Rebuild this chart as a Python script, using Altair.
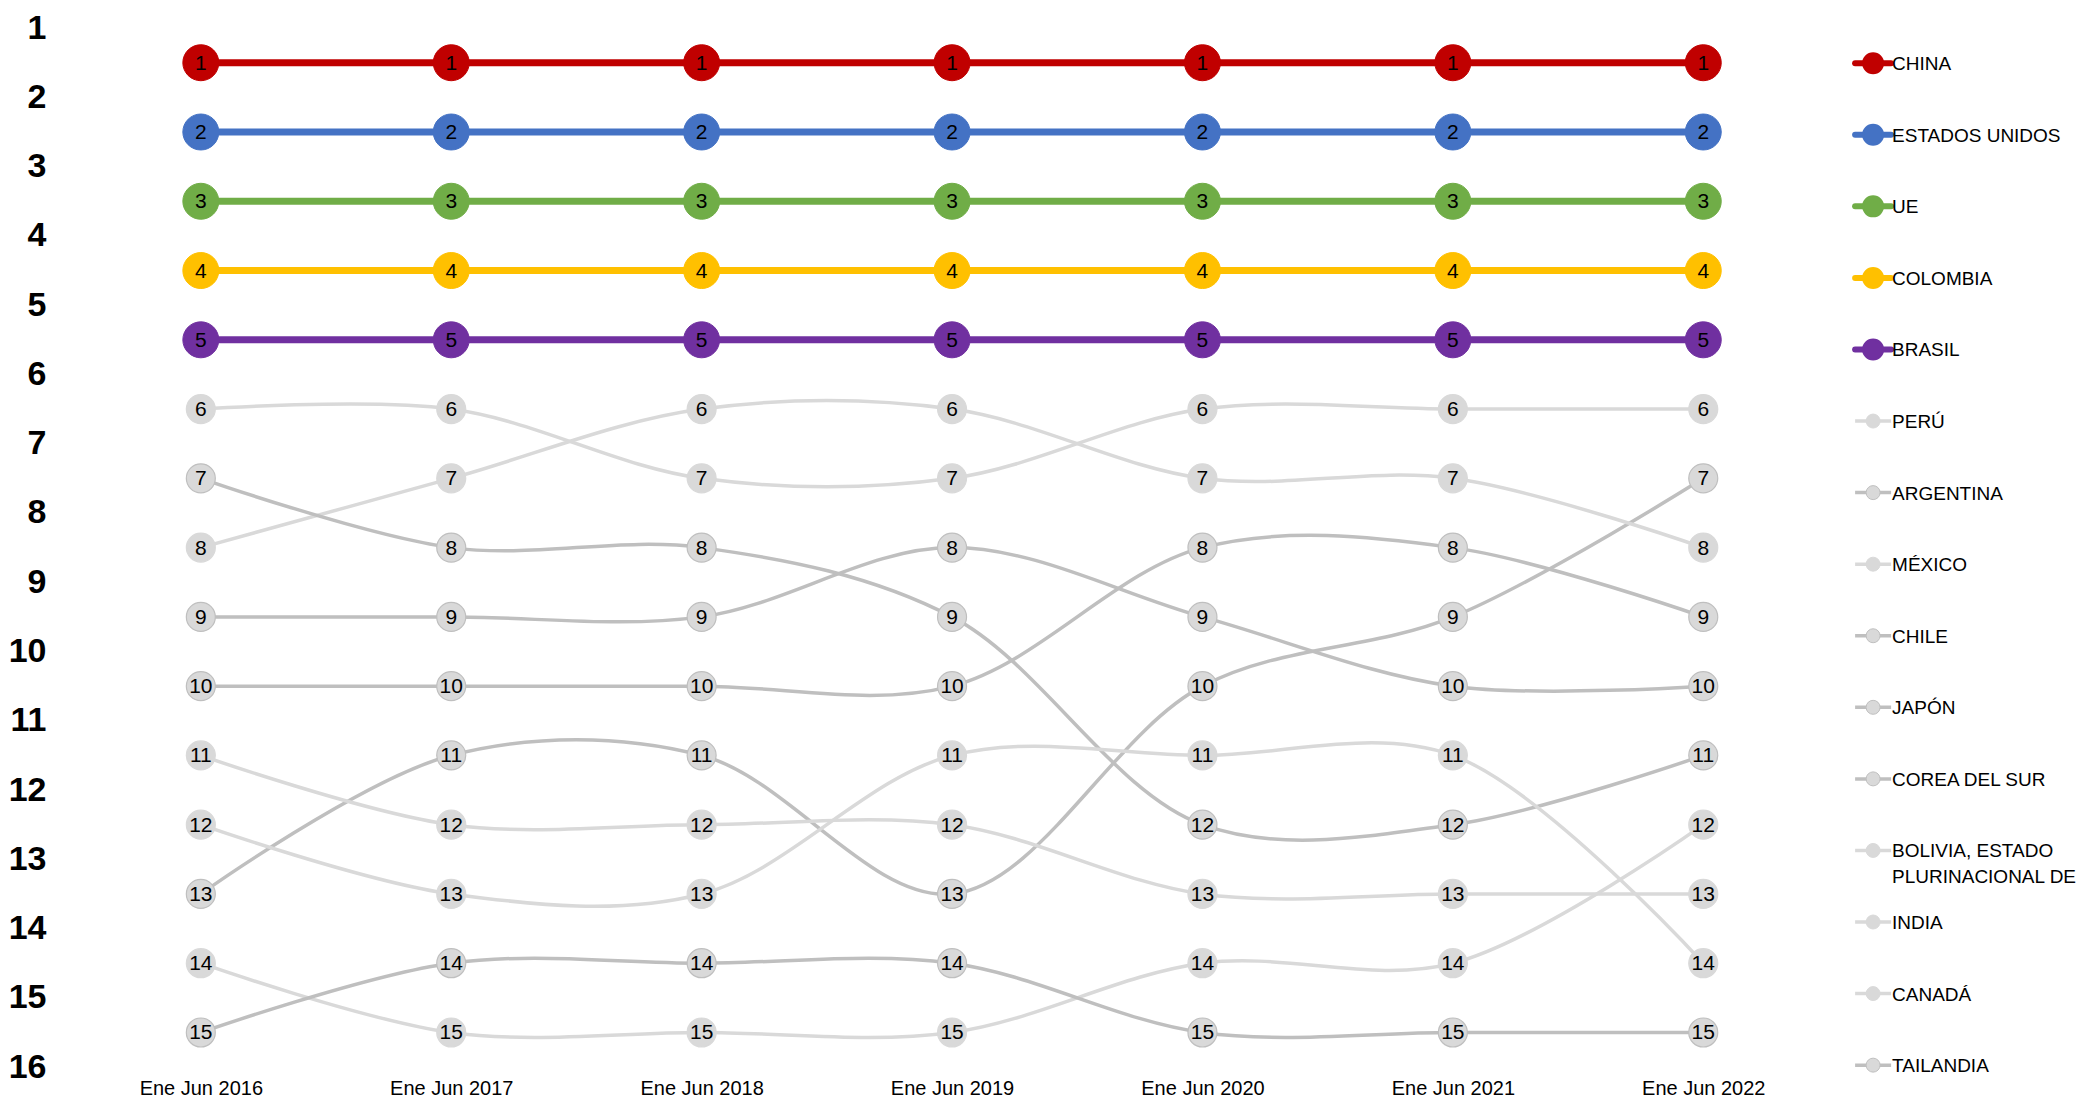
import altair as alt
import pandas as pd

periods = ["Ene Jun 2016", "Ene Jun 2017", "Ene Jun 2018", "Ene Jun 2019",
           "Ene Jun 2020", "Ene Jun 2021", "Ene Jun 2022"]

countries = ["CHINA", "ESTADOS UNIDOS", "UE", "COLOMBIA", "BRASIL", "PERÚ",
             "ARGENTINA", "MÉXICO", "CHILE", "JAPÓN", "COREA DEL SUR",
             "BOLIVIA, ESTADO PLURINACIONAL DE", "INDIA", "CANADÁ", "TAILANDIA"]

legend_labels = ["CHINA", "ESTADOS UNIDOS", "UE", "COLOMBIA", "BRASIL", "PERÚ",
                 "ARGENTINA", "MÉXICO", "CHILE", "JAPÓN", "COREA DEL SUR",
                 "BOLIVIA, ESTADO\nPLURINACIONAL DE", "INDIA", "CANADÁ", "TAILANDIA"]

rank_china = [1, 1, 1, 1, 1, 1, 1]
rank_usa = [2, 2, 2, 2, 2, 2, 2]
rank_ue = [3, 3, 3, 3, 3, 3, 3]
rank_colombia = [4, 4, 4, 4, 4, 4, 4]
rank_brasil = [5, 5, 5, 5, 5, 5, 5]
rank_peru = [6, 6, 7, 7, 6, 6, 6]
rank_argentina = [13, 11, 11, 13, 10, 9, 7]
rank_mexico = [8, 7, 6, 6, 7, 7, 8]
rank_chile = [10, 10, 10, 10, 8, 8, 9]
rank_japon = [9, 9, 9, 8, 9, 10, 10]
rank_corea = [7, 8, 8, 9, 12, 12, 11]
rank_bolivia = [14, 15, 15, 15, 14, 14, 12]
rank_india = [11, 12, 12, 12, 13, 13, 13]
rank_canada = [12, 13, 13, 11, 11, 11, 14]
rank_tailandia = [15, 14, 14, 14, 15, 15, 15]

ranks = [rank_china, rank_usa, rank_ue, rank_colombia, rank_brasil, rank_peru,
         rank_argentina, rank_mexico, rank_chile, rank_japon, rank_corea,
         rank_bolivia, rank_india, rank_canada, rank_tailandia]

highlighted = ["CHINA", "ESTADOS UNIDOS", "UE", "COLOMBIA", "BRASIL"]

# styles
LIGHT = "#D9D9D9"
DARK = "#BFBFBF"
line_colors = ["#C00000", "#4472C4", "#70AD47", "#FFC000", "#7030A0",
               LIGHT, DARK, LIGHT, DARK, DARK, DARK, LIGHT, LIGHT, LIGHT, DARK]
fill_colors = ["#C00000", "#4472C4", "#70AD47", "#FFC000", "#7030A0"] + [LIGHT] * 10
stroke_colors = line_colors

FONT = "Liberation Sans"

rows = []
for c, r in zip(countries, ranks):
    for i, (p, v) in enumerate(zip(periods, r)):
        rows.append({"country": c, "period": p, "idx": i, "rank": v,
                     "top": c in highlighted})
df = pd.DataFrame(rows)

leg = pd.DataFrame({"country": countries, "label": legend_labels,
                    "i": list(range(len(countries))),
                    "top": [c in highlighted for c in countries]})

H = 1062
y_scale = alt.Scale(domain=[0.2136, 15.538], reverse=True, nice=False, zero=False)
x_scale = alt.Scale(type="point", padding=0.5625)
color_line = alt.Color("country:N", scale=alt.Scale(domain=countries, range=line_colors), legend=None)
fill_enc = alt.Fill("country:N", scale=alt.Scale(domain=countries, range=fill_colors), legend=None)
stroke_enc = alt.Stroke("country:N", scale=alt.Scale(domain=countries, range=stroke_colors), legend=None)

base = alt.Chart(df).encode(
    x=alt.X("period:N", sort=periods, scale=x_scale, title=None,
            axis=alt.Axis(labelFont=FONT, labelFontSize=20, labelColor="black",
                          labelAngle=0, domain=False, ticks=False, grid=False,
                          labelPadding=9)),
    y=alt.Y("rank:Q", scale=y_scale, title=None,
            axis=alt.Axis(values=[k + 0.5 for k in range(16)],
                          labelExpr="datum.value + 0.5",
                          labelFont=FONT, labelFontSize=34, labelFontWeight="bold",
                          labelColor="black", domain=False, ticks=False, grid=False,
                          labelPadding=14, labelFlush=False, labelOverlap=False)),
)

grey_lines = base.transform_filter("!datum.top").mark_line(
    strokeWidth=3.5, interpolate="catmull-rom").encode(color=color_line, order="idx:Q")
top_lines = base.transform_filter("datum.top").mark_line(
    strokeWidth=7, interpolate="catmull-rom").encode(color=color_line, order="idx:Q")
grey_pts = base.transform_filter("!datum.top").mark_point(
    shape="circle", filled=True, opacity=1, size=841, strokeWidth=1.2).encode(
    fill=fill_enc, stroke=stroke_enc)
top_pts = base.transform_filter("datum.top").mark_point(
    shape="circle", filled=True, opacity=1, size=1296, strokeWidth=1).encode(
    fill=fill_enc, stroke=stroke_enc)
labels = base.mark_text(font=FONT, fontSize=21, color="black", baseline="middle",
                        dy=1).encode(text="rank:Q")

main = alt.layer(grey_lines, top_lines, grey_pts, top_pts, labels).properties(
    width=1785, height=H)

ly = alt.Y("i:Q", scale=alt.Scale(domain=[-0.768, -0.768 + H / 71.6], reverse=True,
                                  nice=False, zero=False),
           axis=None)
lbase = alt.Chart(leg).encode(y=ly)
leg_rule_top = lbase.transform_filter("datum.top").mark_rule(strokeWidth=6, strokeCap="round").encode(
    x=alt.value(11), x2=alt.value(47), color=color_line)
leg_rule_grey = lbase.transform_filter("!datum.top").mark_rule(strokeWidth=3.5).encode(
    x=alt.value(11), x2=alt.value(47), color=color_line)
leg_pt_top = lbase.transform_filter("datum.top").mark_point(
    shape="circle", filled=True, opacity=1, size=400).encode(
    x=alt.value(29), fill=fill_enc, stroke=stroke_enc)
leg_pt_grey = lbase.transform_filter("!datum.top").mark_point(
    shape="circle", filled=True, opacity=1, size=196, strokeWidth=1).encode(
    x=alt.value(29), fill=fill_enc, stroke=stroke_enc)
leg_text = lbase.mark_text(font=FONT, fontSize=19, color="black", align="left",
                           baseline="alphabetic", dy=7, lineBreak="\n",
                           lineHeight=26).encode(x=alt.value(48), text="label:N")

legend = alt.layer(leg_rule_top, leg_rule_grey, leg_pt_top, leg_pt_grey, leg_text).properties(
    width=226, height=H)

chart = alt.hconcat(main, legend, spacing=0).properties(padding=0).configure_view(
    stroke=None)

chart.save("out.html", embed_options={"renderer": "svg", "actions": False})
